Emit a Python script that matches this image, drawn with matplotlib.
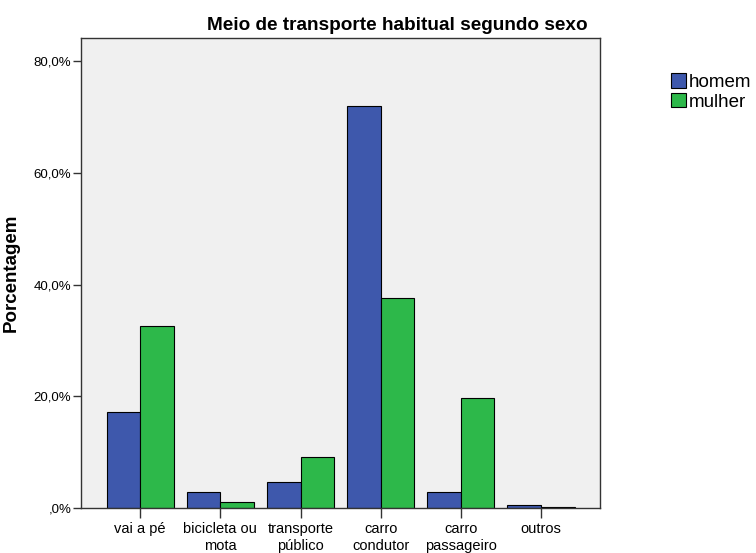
import matplotlib.pyplot as plt
import numpy as np
from matplotlib.ticker import FuncFormatter

plt.rcParams['font.family'] = ['Liberation Sans', 'DejaVu Sans']

categories = ['vai a pé', 'bicicleta ou\nmota', 'transporte\npúblico',
              'carro\ncondutor', 'carro\npassageiro', 'outros']
homem = [17.2, 2.9, 4.7, 71.9, 2.9, 0.5]
mulher = [32.6, 1.0, 9.1, 37.6, 19.7, 0.1]

fig = plt.figure(figsize=(7.56, 5.53), dpi=100)
ax = fig.add_axes([0.107, 0.0814, 0.687, 0.8496])
ax.set_facecolor('#f0f0f0')

x = np.arange(len(categories))
w = 0.42
ax.bar(x - w/2, homem, w, color='#3e58ac', edgecolor='black', linewidth=0.8, label='homem')
ax.bar(x + w/2, mulher, w, color='#2db84a', edgecolor='black', linewidth=0.8, label='mulher')

ax.set_xlim(-0.74, 5.74)
ax.set_ylim(0, 84.1)
ax.set_yticks([0, 20, 40, 60, 80])
ax.yaxis.set_major_formatter(FuncFormatter(
    lambda v, p: ',0%' if v == 0 else f'{v:.1f}%'.replace('.', ',')))
ax.set_xticks(x)
ax.set_xticklabels(categories, fontsize=10.5, linespacing=1.3)
ax.tick_params(axis='y', labelsize=9.5, length=6, width=1, color='#333333', pad=1)
ax.tick_params(axis='x', length=7, width=1, color='#333333', pad=3)
for s in ax.spines.values():
    s.set_color('#333333')
    s.set_linewidth(1)

ax.set_ylabel('Porcentagem', fontsize=13.5, fontweight='bold')
ax.yaxis.set_label_coords(-0.118, 0.5)
fig.text(0.525, 1 - 30/553, 'Meio de transporte habitual segundo sexo',
         fontsize=13.7, fontweight='bold', ha='center', va='baseline')

fig.legend(loc='upper left', bbox_to_anchor=(0.878, 0.881), frameon=False,
           fontsize=13.5, handlelength=0.8, handleheight=0.8, handletextpad=0.15,
           labelspacing=0.1, borderaxespad=0)

fig.savefig('out.png', dpi=100)
